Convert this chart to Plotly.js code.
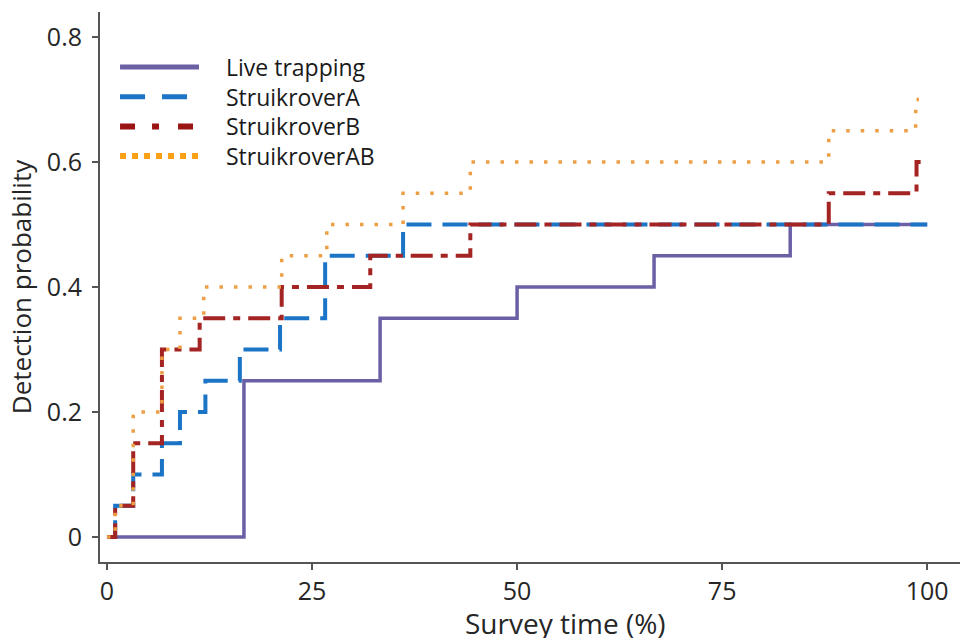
<!DOCTYPE html>
<html>
<head>
<meta charset="utf-8">
<script src="https://cdn.plot.ly/plotly-3.0.1.min.js"></script>
<style>html,body{margin:0;padding:0;background:#fff;}#chart{width:970px;height:638px;}</style>
</head>
<body>
<div id="chart"></div>
<script>
// Series names
var seriesNames = ["Live trapping", "StruikroverA", "StruikroverB", "StruikroverAB"];

// Live trapping (step function, survey time % vs detection probability)
var liveX = [0, 16.7, 33.3, 50, 66.7, 83.3, 100];
var liveY = [0, 0.25, 0.35, 0.40, 0.45, 0.50, 0.50];

// StruikroverA
var aX = [0, 1, 3.2, 6.7, 8.9, 12, 16.2, 21.1, 26.6, 36.1, 100];
var aY = [0, 0.05, 0.10, 0.15, 0.20, 0.25, 0.30, 0.35, 0.45, 0.50, 0.50];

// StruikroverB
var bX = [0, 1, 3.2, 6.7, 11.3, 21.3, 32.1, 44.3, 88, 98.7, 99.2];
var bY = [0, 0.05, 0.15, 0.30, 0.35, 0.40, 0.45, 0.50, 0.55, 0.60, 0.60];

// StruikroverAB
var abX = [0, 1, 3.2, 6.7, 8.9, 11.8, 21.3, 26.8, 36.1, 44.3, 88, 98.6, 99.0];
var abY = [0, 0.05, 0.20, 0.30, 0.35, 0.40, 0.45, 0.50, 0.55, 0.60, 0.65, 0.70, 0.70];

// Tick labels
var xTickVals = [0, 25, 50, 75, 100];
var xTickText = ["0", "25", "50", "75", "100"];
var yTickVals = [0, 0.2, 0.4, 0.6, 0.8];
var yTickText = ["0", "0.2", "0.4", "0.6", "0.8"];

var xTitle = "Survey time (%)";
var yTitle = "Detection probability";

var styles = [
  {color: "#6b60a6", width: 3.5, dash: "solid", legDash: "solid", legColor: "#6b60a6", legWidth: 5},
  {color: "#1b74c6", width: 4, dash: "25px,11px", legDash: "25px,17px", legColor: "#1b74c6", legWidth: 5},
  {color: "#a42323", width: 4, dash: "22px,8px,7px,8px", legDash: "15px,17px,7px,19px", legColor: "#9a1414", legWidth: 6},
  {color: "#ec9f45", width: 3.5, dash: "3.5px,11px", legDash: "6px,6px", legColor: "#fca016", legWidth: 6}
];
var xs = [liveX, aX, bX, abX];
var ys = [liveY, aY, bY, abY];

var traces = [];
for (var i = 0; i < 4; i++) {
  traces.push({
    x: xs[i], y: ys[i], type: "scatter", mode: "lines", name: seriesNames[i],
    line: {shape: "hv", color: styles[i].color, width: styles[i].width, dash: styles[i].dash},
    showlegend: false, hoverinfo: "skip"
  });
}

// Custom legend (long line samples like the original)
var shapes = [], annotations = [];
var legRowsY = [0.900, 0.846, 0.792, 0.738];
for (var j = 0; j < 4; j++) {
  shapes.push({type: "line", xref: "paper", yref: "paper", x0: 0.0233, x1: 0.1151, y0: legRowsY[j], y1: legRowsY[j],
    line: {color: styles[j].legColor, width: styles[j].legWidth, dash: styles[j].legDash}});
  annotations.push({xref: "paper", yref: "paper", x: 0.1453, y: legRowsY[j], xanchor: "left", yanchor: "middle",
    text: seriesNames[j], showarrow: false, borderpad: 0,
    font: {family: "Open Sans, sans-serif", size: 23, color: "#1a1a1a"}});
}
// x-axis title placed like the original (slightly cut by the bottom edge)
annotations.push({xref: "paper", yref: "paper", x: 0.5407, y: -0.111, xanchor: "center", yanchor: "middle",
  text: xTitle, showarrow: false, borderpad: 0,
  font: {family: "Open Sans, sans-serif", size: 28, color: "#262626"}});

var layout = {
  width: 970, height: 638,
  margin: {l: 100, r: 10, t: 12, b: 76},
  paper_bgcolor: "#ffffff", plot_bgcolor: "#ffffff",
  showlegend: false,
  font: {family: "Open Sans, sans-serif", color: "#262626"},
  xaxis: {
    range: [-0.85, 104.0], tickmode: "array", tickvals: xTickVals, ticktext: xTickText,
    showgrid: false, zeroline: false, showline: true, linecolor: "#555555", linewidth: 2,
    ticks: "outside", ticklen: 6, tickwidth: 1.5, tickcolor: "#555555",
    tickfont: {size: 25, color: "#262626"}, ticklabelstandoff: 0
  },
  yaxis: {
    range: [-0.04, 0.84], tickmode: "array", tickvals: yTickVals, ticktext: yTickText,
    showgrid: false, zeroline: false, showline: true, linecolor: "#555555", linewidth: 2,
    ticks: "outside", ticklen: 6, tickwidth: 1.5, tickcolor: "#555555",
    tickfont: {size: 25, color: "#262626"}, ticklabelstandoff: 5,
    title: {text: yTitle, font: {size: 26, color: "#262626"}, standoff: 8}
  },
  shapes: shapes,
  annotations: annotations
};

Plotly.newPlot("chart", traces, layout, {displayModeBar: false, staticPlot: true});
</script>
</body>
</html>
